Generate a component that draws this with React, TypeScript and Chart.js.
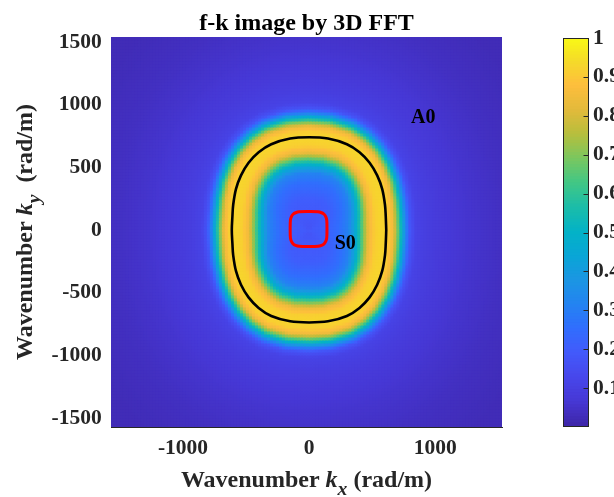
import React, { useEffect, useRef } from "react";
import { Chart, registerables } from "chart.js";
Chart.register(...registerables);

const FONT = "'Liberation Serif', 'Times New Roman', Times, serif";
const INK = "#262626";

// ---- axes (rad/m) ----
const kxLimits = [-1571, 1530];
const kyLimits = [-1571, 1540];
const kxTicks = [-1000, 0, 1000];
const kyTicks = [-1500, -1000, -500, 0, 500, 1000, 1500];
const colorLimits = [0, 1];
const colorTicks = [0.1, 0.2, 0.3, 0.4, 0.5, 0.6, 0.7, 0.8, 0.9, 1];

// ---- A0 dispersion curve (black) ----
const a0Kx = [612, 608, 602, 580, 540, 480, 400, 300, 150, 0, -150, -300, -400, -480, -540, -580, -602, -608, -613, -608, -602, -580, -540, -480, -400, -300, -150, 0, 150, 300, 400, 480, 540, 580, 602, 608, 612];
const a0Ky = [0, 110, 200, 326, 436, 537, 621, 685, 730, 740, 730, 685, 621, 537, 436, 326, 200, 110, 0, -110, -200, -326, -436, -537, -621, -685, -728, -737, -728, -685, -621, -537, -436, -326, -200, -110, 0];

// ---- S0 dispersion curve (red) ----
const s0Kx = [142, 140, 132, 119, 99, 70, -4, -78, -107, -127, -140, -148, -150, -148, -140, -127, -107, -78, -4, 70, 99, 119, 132, 140, 142];
const s0Ky = [8, 79, 107, 126, 138, 146, 148, 146, 138, 126, 107, 79, 8, -63, -91, -110, -122, -130, -132, -130, -122, -110, -91, -63, 8];

// ---- energy ring: centre = A0 curve scaled by these factors (kx, ky) ----
const ringCentreScale = [0.944, 0.99];
// normalised f-k amplitude vs. radial offset from the ring centre (rad/m, + = outward)
const ringOffset = [-715, -477, -358, -280, -230, -190, -150, -110, -55, 0, 55, 100, 135, 165, 200, 240, 290, 380, 500, 715, 1030, 1430];
const ringLevel = [0.17, 0.2, 0.25, 0.31, 0.42, 0.55, 0.7, 0.84, 0.91, 0.925, 0.91, 0.84, 0.68, 0.52, 0.33, 0.17, 0.11, 0.09, 0.075, 0.055, 0.035, 0.02];

// ---- mode labels ----
const modeNames = ["A0", "S0"];
const modeKx = [905, 287];
const modeKy = [896, -109];

// parula colormap stops (style)
const PARULA = [
  [0.2422, 0.1504, 0.6603], [0.276, 0.218, 0.834], [0.2803, 0.2782, 0.9221], [0.26, 0.353, 0.985],
  [0.19, 0.43, 0.995], [0.14, 0.515, 0.945], [0.1063, 0.59, 0.8874], [0.035, 0.65, 0.84],
  [0.0117, 0.7, 0.7754], [0.11, 0.74, 0.66], [0.2586, 0.7809, 0.5208], [0.48, 0.78, 0.37],
  [0.7199, 0.7456, 0.2384], [0.89, 0.73, 0.23], [0.9932, 0.7449, 0.2385], [0.96, 0.86, 0.16],
  [0.9769, 0.9839, 0.0805],
];
function parula(v: number): string {
  const u = (v - colorLimits[0]) / (colorLimits[1] - colorLimits[0]);
  const t = Math.max(0, Math.min(1, u)) * (PARULA.length - 1);
  const i = Math.min(PARULA.length - 2, Math.floor(t));
  const f = t - i;
  const c = PARULA[i].map((a, k) => Math.round(255 * (a + (PARULA[i + 1][k] - a) * f)));
  return `rgb(${c[0]},${c[1]},${c[2]})`;
}

function profile(d: number): number {
  const n = ringOffset.length;
  if (d <= ringOffset[0]) return ringLevel[0];
  if (d >= ringOffset[n - 1]) return ringLevel[n - 1];
  for (let i = 0; i < n - 1; i++) {
    if (d <= ringOffset[i + 1]) {
      const f = (d - ringOffset[i]) / (ringOffset[i + 1] - ringOffset[i]);
      return ringLevel[i] + (ringLevel[i + 1] - ringLevel[i]) * f;
    }
  }
  return ringLevel[n - 1];
}

const NA = 1440;
function a0RadiusTable(): Float64Array {
  const R = new Float64Array(NA);
  for (let k = 0; k < NA; k++) {
    const th = (k / NA) * 2 * Math.PI;
    const c = Math.cos(th), s = Math.sin(th);
    let best = Infinity;
    for (let i = 0; i < a0Kx.length - 1; i++) {
      const px = a0Kx[i], py = a0Ky[i];
      const ex = a0Kx[i + 1] - px, ey = a0Ky[i + 1] - py;
      const den = c * ey - s * ex;
      if (Math.abs(den) < 1e-12) continue;
      const rho = (px * ey - py * ex) / den;
      const t = (px * s - py * c) / den;
      if (t >= -1e-9 && t <= 1 + 1e-9 && rho > 0 && rho < best) best = rho;
    }
    R[k] = best;
  }
  return R;
}

const NX = 130, NY = 130;
function buildImage() {
  const R = a0RadiusTable();
  const pts: { x: number; y: number }[] = [];
  const cols: string[] = [];
  const dx = (kxLimits[1] - kxLimits[0]) / NX;
  const dy = (kyLimits[1] - kyLimits[0]) / NY;
  const [sx, sy] = ringCentreScale;
  for (let j = 0; j < NY; j++) {
    for (let i = 0; i < NX; i++) {
      const x = kxLimits[0] + (i + 0.5) * dx;
      const y = kyLimits[0] + (j + 0.5) * dy;
      const xs = x / sx, ys = y / sy;
      const rho = Math.hypot(xs, ys);
      let th = Math.atan2(ys, xs);
      if (th < 0) th += 2 * Math.PI;
      const r = R[Math.round((th / (2 * Math.PI)) * NA) % NA];
      pts.push({ x, y });
      cols.push(parula(profile(rho - r)));
    }
  }
  return { pts, cols };
}

type Seg = { text: string; italic?: boolean; sub?: boolean };
function drawRich(ctx: CanvasRenderingContext2D, segs: Seg[], size: number, cx: number, base: number) {
  const fontOf = (s: Seg) => `${s.italic ? "italic " : ""}bold ${s.sub ? size * 0.82 : size}px ${FONT}`;
  let total = 0;
  const widths = segs.map((s) => {
    ctx.font = fontOf(s);
    const w = ctx.measureText(s.text).width;
    total += w;
    return w;
  });
  let x = cx - total / 2;
  ctx.textAlign = "left";
  ctx.textBaseline = "alphabetic";
  segs.forEach((s, i) => {
    ctx.font = fontOf(s);
    ctx.fillText(s.text, x, base + (s.sub ? size * 0.32 : 0));
    x += widths[i];
  });
}

const mainText = {
  id: "mainText",
  afterDatasetsDraw(chart: any) {
    const { ctx, scales } = chart;
    ctx.save();
    ctx.fillStyle = "#000";
    ctx.font = `bold 20px ${FONT}`;
    ctx.textAlign = "center";
    ctx.textBaseline = "middle";
    modeNames.forEach((t, i) => {
      ctx.fillText(t, scales.x.getPixelForValue(modeKx[i]), scales.y.getPixelForValue(modeKy[i]));
    });
    ctx.restore();
  },
  afterDraw(chart: any) {
    const { ctx, chartArea: a } = chart;
    const cx = (a.left + a.right) / 2;
    const cy = (a.top + a.bottom) / 2;
    ctx.save();
    ctx.fillStyle = "#000";
    ctx.font = `bold 24px ${FONT}`;
    ctx.textAlign = "center";
    ctx.textBaseline = "alphabetic";
    ctx.fillText("f-k image by 3D FFT", cx, 29.5);
    ctx.fillStyle = INK;
    drawRich(ctx, [
      { text: "Wavenumber " },
      { text: "k", italic: true },
      { text: "x", italic: true, sub: true },
      { text: " (rad/m)" },
    ], 24, cx, 487);
    ctx.translate(32, cy);
    ctx.rotate(-Math.PI / 2);
    drawRich(ctx, [
      { text: "Wavenumber " },
      { text: "k", italic: true },
      { text: "y", italic: true, sub: true },
      { text: "  (rad/m)" },
    ], 24, 0, 0);
    ctx.restore();
  },
};

const barFrame = {
  id: "barFrame",
  afterDatasetsDraw(chart: any) {
    const { ctx, chartArea: a, scales } = chart;
    ctx.save();
    ctx.strokeStyle = INK;
    ctx.lineWidth = 1;
    const l = Math.round(a.left) + 0.5, r = Math.round(a.right) - 0.5;
    const t = Math.round(a.top) + 0.5, b = Math.round(a.bottom) - 0.5;
    ctx.strokeRect(l, t, r - l, b - t);
    ctx.beginPath();
    colorTicks.forEach((v) => {
      const y = Math.round(scales.y.getPixelForValue(v)) + 0.5;
      ctx.moveTo(r, y);
      ctx.lineTo(r - 5, y);
    });
    ctx.stroke();
    ctx.restore();
  },
};

const tickFont = { family: FONT, size: 21.5, weight: "bold" as const };
const plainLabel = (v: any) => String(v);

export default function App() {
  const mainRef = useRef<HTMLCanvasElement>(null);
  const barRef = useRef<HTMLCanvasElement>(null);

  useEffect(() => {
    const { pts, cols } = buildImage();
    const a0 = a0Kx.map((x, i) => ({ x, y: a0Ky[i] }));
    const s0 = s0Kx.map((x, i) => ({ x, y: s0Ky[i] }));
    const main = new Chart(mainRef.current!, {
      type: "scatter",
      data: {
        datasets: [
          { label: "A0", data: a0, showLine: true, borderColor: "#000", borderWidth: 2.6, pointRadius: 0, tension: 0.35, order: 1 } as any,
          { label: "S0", data: s0, showLine: true, borderColor: "#ff0000", borderWidth: 3, pointRadius: 0, tension: 0.35, order: 1 } as any,
          { label: "f-k", data: pts, pointStyle: "rect", pointRadius: 2.75, pointBorderWidth: 0, pointBackgroundColor: cols, clip: 0, order: 5 } as any,
        ],
      },
      options: {
        animation: false,
        responsive: false,
        maintainAspectRatio: false,
        devicePixelRatio: 1,
        events: [],
        layout: { padding: { left: 0, right: 112, top: 37, bottom: 0 } },
        plugins: { legend: { display: false }, tooltip: { enabled: false }, title: { display: false } },
        scales: {
          x: {
            type: "linear",
            min: kxLimits[0],
            max: kxLimits[1],
            afterFit: (s: any) => { s.height = 70; },
            afterBuildTicks: (s: any) => { s.ticks = kxTicks.map((value) => ({ value })); },
            grid: { display: false, drawTicks: false },
            border: { display: true, color: INK, width: 1 },
            ticks: { font: tickFont, color: INK, padding: 9, maxRotation: 0, autoSkip: false, callback: plainLabel },
          },
          y: {
            type: "linear",
            min: kyLimits[0],
            max: kyLimits[1],
            afterFit: (s: any) => { s.width = 111; },
            afterBuildTicks: (s: any) => { s.ticks = kyTicks.map((value) => ({ value })); },
            grid: { display: false, drawTicks: false },
            border: { display: true, color: INK, width: 1 },
            ticks: { font: tickFont, color: INK, padding: 9.3, autoSkip: false, callback: plainLabel },
          },
        },
      } as any,
      plugins: [mainText],
    });

    const N = 128;
    const bands = Array.from({ length: N }, (_, i) => {
      const lo = colorLimits[0] + ((colorLimits[1] - colorLimits[0]) * i) / N;
      const hi = colorLimits[0] + ((colorLimits[1] - colorLimits[0]) * (i + 1)) / N;
      return {
        data: [[lo, Math.min(colorLimits[1], hi + 0.003)]],
        backgroundColor: parula((lo + hi) / 2),
        borderWidth: 0,
        grouped: false,
        barPercentage: 1,
        categoryPercentage: 1,
      };
    });
    const bar = new Chart(barRef.current!, {
      type: "bar",
      data: { labels: ["c"], datasets: bands as any },
      options: {
        animation: false,
        responsive: false,
        maintainAspectRatio: false,
        devicePixelRatio: 1,
        events: [],
        layout: { padding: { left: 563, right: 0, top: 38, bottom: 70 } },
        plugins: { legend: { display: false }, tooltip: { enabled: false } },
        scales: {
          x: { display: false },
          y: {
            position: "right",
            min: colorLimits[0],
            max: colorLimits[1],
            afterFit: (s: any) => { s.width = 25; },
            afterBuildTicks: (s: any) => { s.ticks = colorTicks.map((value) => ({ value })); },
            grid: { display: false, drawTicks: false },
            border: { display: false },
            ticks: { font: tickFont, color: INK, padding: 4, autoSkip: false, callback: plainLabel },
          },
        },
      } as any,
      plugins: [barFrame],
    });

    return () => {
      main.destroy();
      bar.destroy();
    };
  }, []);

  return (
    <div style={{ position: "fixed", left: 0, top: 0, width: 614, height: 497, overflow: "hidden", background: "#fff" }}>
      <canvas ref={mainRef} width={614} height={497} style={{ position: "absolute", left: 0, top: 0 }} />
      <canvas ref={barRef} width={614} height={497} style={{ position: "absolute", left: 0, top: 0 }} />
    </div>
  );
}
